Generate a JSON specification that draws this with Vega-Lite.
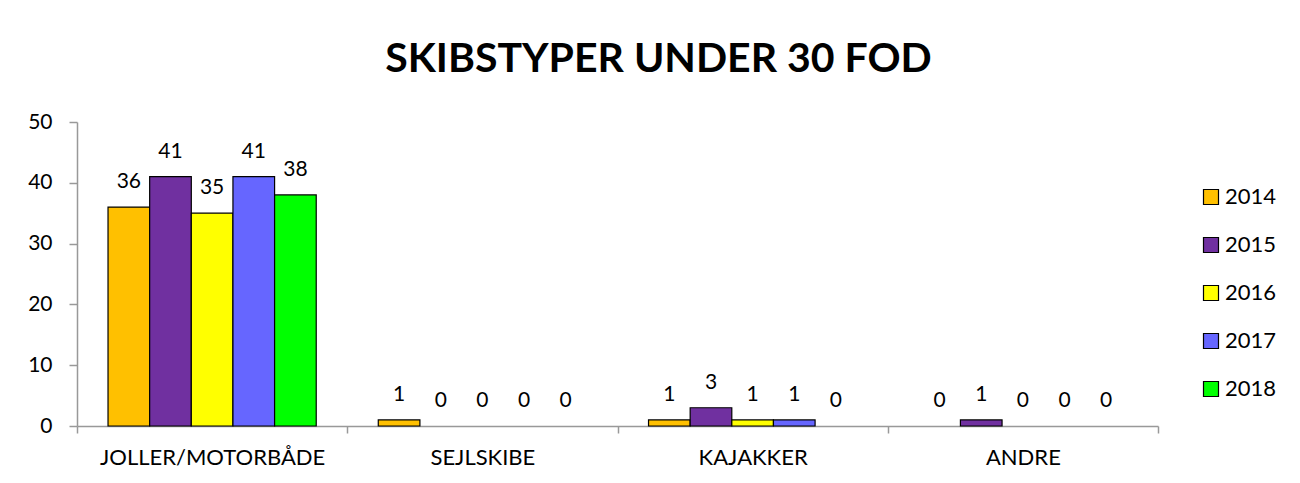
{
  "$schema": "https://vega.github.io/schema/vega-lite/v6.json",
  "autosize": {"type": "none"},
  "padding": {"left": 77, "top": 122, "right": 142, "bottom": 57},
  "width": 1081,
  "height": 304,
  "background": "white",
  "title": {
    "text": "SKIBSTYPER UNDER 30 FOD",
    "font": "Lato",
    "fontSize": 41,
    "fontWeight": "bold",
    "color": "black",
    "anchor": "middle",
    "dx": 41,
    "offset": 30
  },
  "data": {
    "values": [
      {"type": "JOLLER/MOTORBÅDE", "year": "2014", "value": 36},
      {"type": "JOLLER/MOTORBÅDE", "year": "2015", "value": 41},
      {"type": "JOLLER/MOTORBÅDE", "year": "2016", "value": 35},
      {"type": "JOLLER/MOTORBÅDE", "year": "2017", "value": 41},
      {"type": "JOLLER/MOTORBÅDE", "year": "2018", "value": 38},
      {"type": "SEJLSKIBE", "year": "2014", "value": 1},
      {"type": "SEJLSKIBE", "year": "2015", "value": 0},
      {"type": "SEJLSKIBE", "year": "2016", "value": 0},
      {"type": "SEJLSKIBE", "year": "2017", "value": 0},
      {"type": "SEJLSKIBE", "year": "2018", "value": 0},
      {"type": "KAJAKKER", "year": "2014", "value": 1},
      {"type": "KAJAKKER", "year": "2015", "value": 3},
      {"type": "KAJAKKER", "year": "2016", "value": 1},
      {"type": "KAJAKKER", "year": "2017", "value": 1},
      {"type": "KAJAKKER", "year": "2018", "value": 0},
      {"type": "ANDRE", "year": "2014", "value": 0},
      {"type": "ANDRE", "year": "2015", "value": 1},
      {"type": "ANDRE", "year": "2016", "value": 0},
      {"type": "ANDRE", "year": "2017", "value": 0},
      {"type": "ANDRE", "year": "2018", "value": 0}
    ]
  },
  "encoding": {
    "x": {
      "field": "type",
      "type": "nominal",
      "sort": null,
      "scale": {"paddingInner": 0, "paddingOuter": 0},
      "axis": {
        "title": null,
        "labelAngle": 0,
        "labelLimit": 0,
        "labelFont": "Lato",
        "labelFontSize": 22,
        "labelColor": "black",
        "labelPadding": 14,
        "tickBand": "extent",
        "domainColor": "#999999",
        "tickColor": "#999999",
        "tickSize": 7,
        "domainWidth": 1.5,
        "tickWidth": 1.5
      }
    },
    "xOffset": {"field": "year", "type": "nominal", "scale": {"paddingInner": 0, "paddingOuter": 0.745}},
    "y": {
      "field": "value",
      "type": "quantitative",
      "scale": {"domain": [0, 50]},
      "axis": {
        "title": null,
        "values": [0, 10, 20, 30, 40, 50],
        "grid": false,
        "labelFont": "Lato",
        "labelFontSize": 21,
        "labelColor": "black",
        "labelPadding": 17,
        "domainColor": "#999999",
        "tickColor": "#999999",
        "tickSize": 8,
        "domainWidth": 1.5,
        "tickWidth": 1.5
      }
    }
  },
  "layer": [
    {
      "transform": [{"filter": "datum.value > 0"}],
      "mark": {"type": "bar", "stroke": "black", "strokeWidth": 1.2},
      "encoding": {
        "color": {
          "field": "year",
          "type": "nominal",
          "scale": {"domain": ["2014", "2015", "2016", "2017", "2018"], "range": ["#FFC000", "#7030A0", "#FFFF00", "#6666FF", "#00FF00"]},
          "legend": {
            "title": null,
            "orient": "none",
            "legendX": 1123,
            "legendY": 64,
            "symbolType": "square",
            "symbolSize": 225,
            "symbolStrokeColor": "black",
            "symbolStrokeWidth": 1.2,
            "symbolOpacity": 1,
            "labelFont": "Lato",
            "labelFontSize": 22,
            "labelColor": "black",
            "labelOffset": 3,
            "rowPadding": 26
          }
        }
      }
    },
    {
      "mark": {"type": "text", "baseline": "alphabetic", "dy": -19, "font": "Lato", "fontSize": 21, "color": "black"},
      "encoding": {"text": {"field": "value", "type": "quantitative"}}
    }
  ],
  "config": {"view": {"stroke": null}}
}
